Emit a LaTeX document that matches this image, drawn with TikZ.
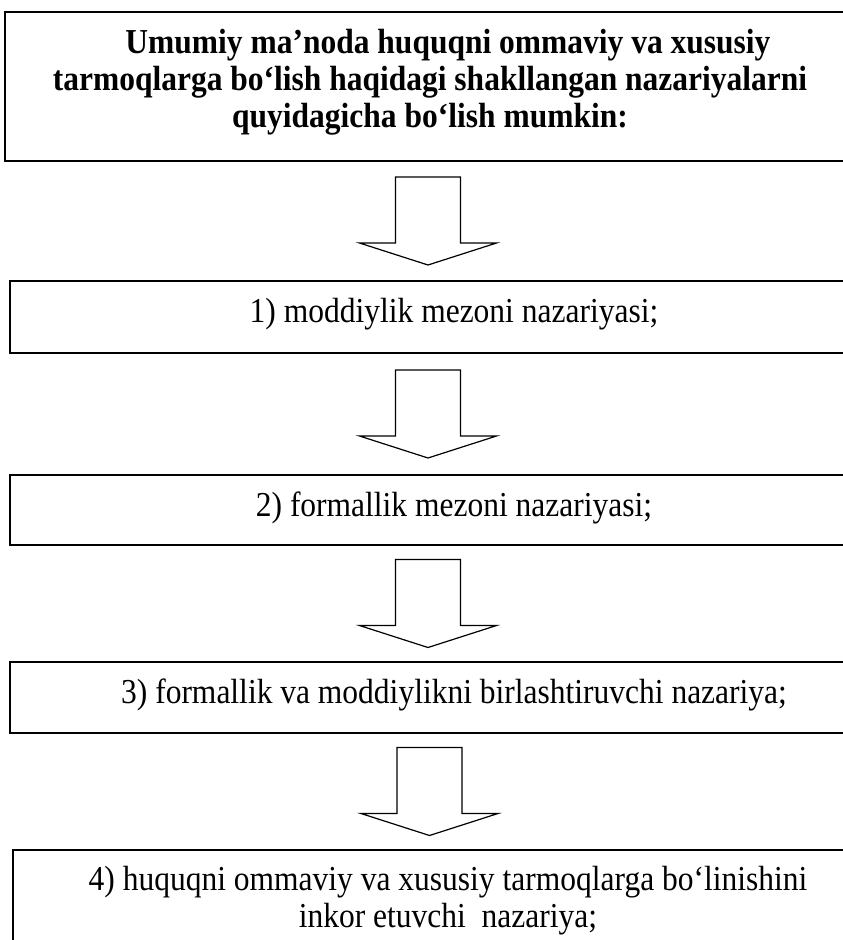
\documentclass[tikz,border=0pt]{standalone}
\usepackage{fontspec}
\setmainfont{Liberation Serif}[FakeStretch=0.9]
\usetikzlibrary{positioning,calc}

\begin{document}
\begin{tikzpicture}[x=1pt,y=-1pt,
   box/.style={draw,line width=1.5pt,rectangle,minimum width=836pt},
   txt/.style={font=\fontsize{35}{37}\selectfont,align=center,inner sep=0pt,anchor=base},
   blockarrow/.style={draw,line width=1.2pt,line join=miter,fill=white}]
   \useasboundingbox (0,0) rectangle (843,940);
   \node[box,minimum width=846pt,minimum height=149pt] (b0) at (428,86.5) {};
   \node[box,minimum height=72pt] (b1) at (428,317) {};
   \node[box,minimum height=70pt] (b2) at (428,510) {};
   \node[box,minimum height=71pt] (b3) at (428,697.5) {};
   \node[box,minimum height=110pt] (b4) at (431,905) {};
   \node[txt,font=\fontsize{35}{37}\selectfont\bfseries] (t0) at (430,127)
      {\hspace{36pt}Umumiy ma’noda huquqni ommaviy va xususiy\\
       tarmoqlarga bo‘lish haqidagi shakllangan nazariyalarni\\
       quyidagicha bo‘lish mumkin:\hspace{40pt}};
   \node[txt] (t1) at (454,322) {1) moddiylik mezoni nazariyasi;};
   \node[txt] (t2) at (454,516) {2) formallik mezoni nazariyasi;};
   \node[txt] (t3) at (454,703) {3) formallik va moddiylikni birlashtiruvchi nazariya;};
   \node[txt] (t4) at (448,927)
      {4) huquqni ommaviy va xususiy tarmoqlarga bo‘linishini\\
       inkor etuvchi~~nazariya;\hspace{34pt}};
   \foreach \a/\b in {b0/b1,b1/b2,b2/b3,b3/b4}{
      \coordinate (m) at ($(\a.south)!0.5!(\b.north)$);
      \draw[blockarrow] ($(m)+(-32.5,-44)$) -- ($(m)+(32.5,-44)$) -- ($(m)+(32.5,22)$)
         -- ($(m)+(68.5,22)$) -- ($(m)+(0,44)$) -- ($(m)+(-68.5,22)$)
         -- ($(m)+(-32.5,22)$) -- cycle;
   }
\end{tikzpicture}
\end{document}
